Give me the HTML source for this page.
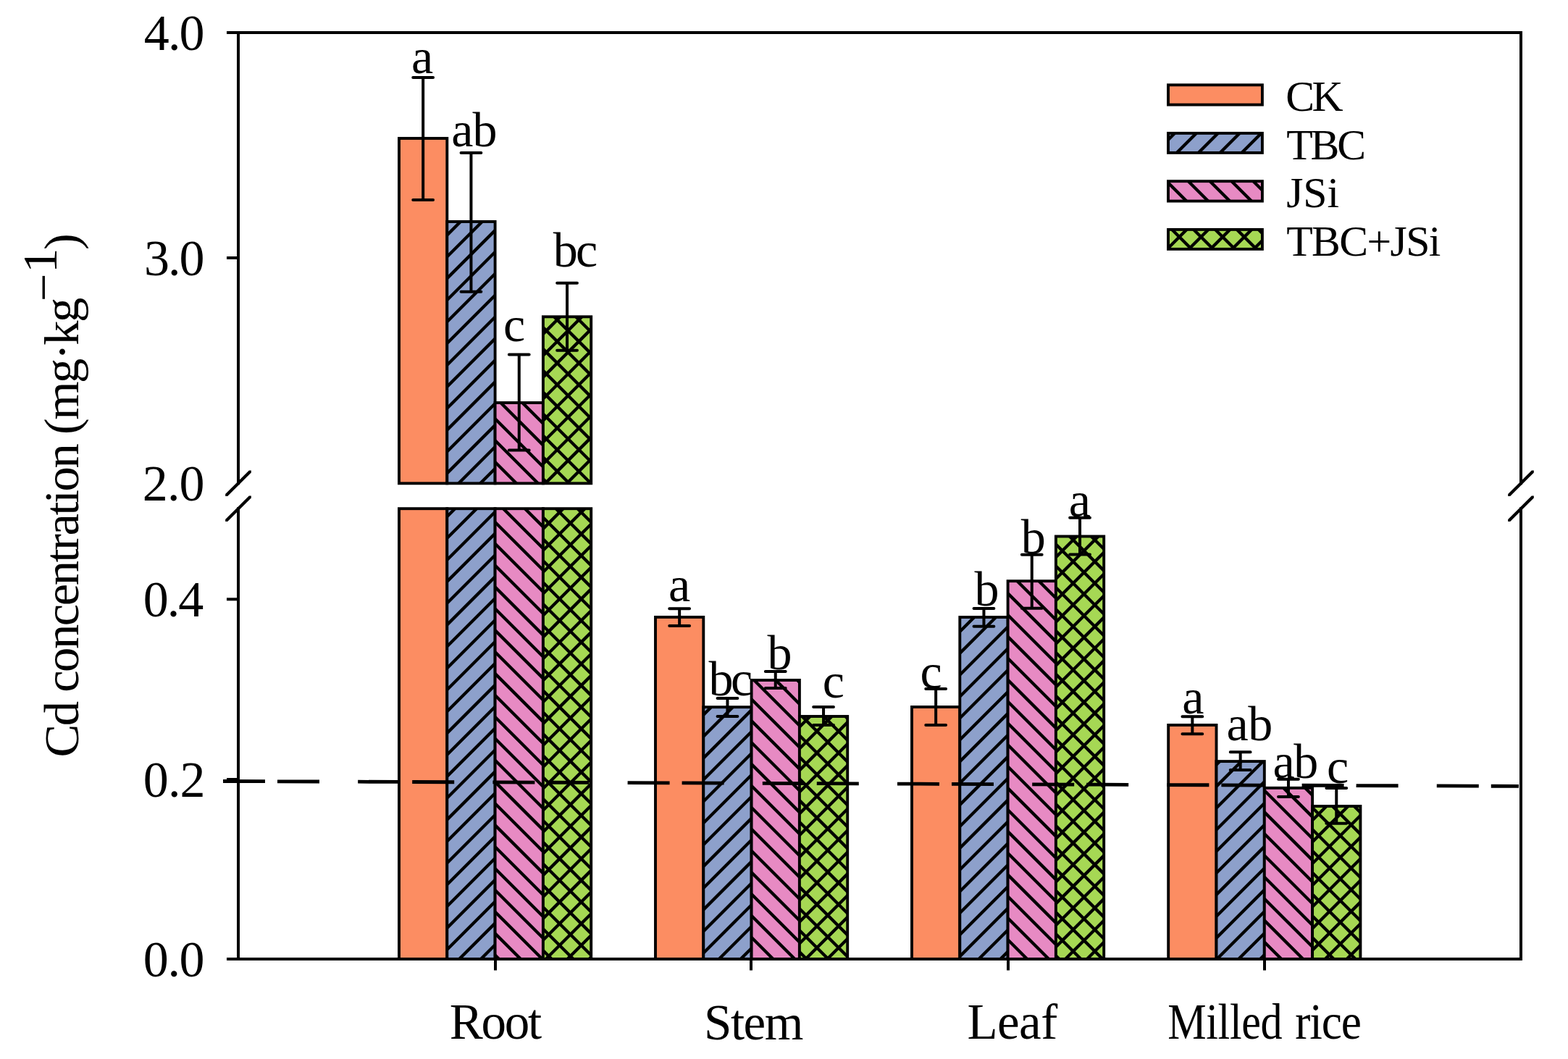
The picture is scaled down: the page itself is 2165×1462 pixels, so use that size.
<!DOCTYPE html>
<html><head><meta charset="utf-8"><title>Cd concentration</title><style>html,body{margin:0;padding:0;background:#fff;overflow:hidden}svg{display:block}</style></head><body>
<svg width="2165" height="1462" viewBox="0 0 2165 1462"><defs></defs><rect width="2165" height="1462" fill="#fff"/><g font-family="Liberation Serif, Times New Roman, serif" fill="#000"><rect x="551.00" y="191.00" width="66.30" height="476.30" fill="#FC8D62"/>
<rect x="551.00" y="191.00" width="66.30" height="476.30" fill="none" stroke="#000" stroke-width="3.9"/>
<rect x="551.00" y="702.20" width="66.30" height="621.80" fill="#FC8D62"/>
<rect x="551.00" y="702.20" width="66.30" height="621.80" fill="none" stroke="#000" stroke-width="3.9"/>
<rect x="617.30" y="306.00" width="66.30" height="361.30" fill="#8DA0CB"/>
<clipPath id="c1"><rect x="617.30" y="306.00" width="66.30" height="361.30"/></clipPath>
<g clip-path="url(#c1)">
<path d="M209.79,672.30 L581.09,301.00 M239.68,672.30 L610.98,301.00 M269.57,672.30 L640.87,301.00 M299.46,672.30 L670.76,301.00 M329.35,672.30 L700.65,301.00 M359.24,672.30 L730.54,301.00 M389.13,672.30 L760.43,301.00 M419.02,672.30 L790.32,301.00 M448.91,672.30 L820.21,301.00 M478.80,672.30 L850.10,301.00 M508.69,672.30 L879.99,301.00 M538.58,672.30 L909.88,301.00 M568.47,672.30 L939.77,301.00 M598.36,672.30 L969.66,301.00 M628.25,672.30 L999.55,301.00 M658.14,672.30 L1029.44,301.00 M688.03,672.30 L1059.33,301.00" stroke="#000" stroke-width="4.3" fill="none"/>
</g>
<rect x="617.30" y="306.00" width="66.30" height="361.30" fill="none" stroke="#000" stroke-width="3.9"/>
<rect x="617.30" y="702.20" width="66.30" height="621.80" fill="#8DA0CB"/>
<clipPath id="c2"><rect x="617.30" y="702.20" width="66.30" height="621.80"/></clipPath>
<g clip-path="url(#c2)">
<path d="M-58.34,1329.00 L573.46,697.20 M-28.45,1329.00 L603.35,697.20 M1.44,1329.00 L633.24,697.20 M31.33,1329.00 L663.13,697.20 M61.22,1329.00 L693.02,697.20 M91.11,1329.00 L722.91,697.20 M121.00,1329.00 L752.80,697.20 M150.89,1329.00 L782.69,697.20 M180.78,1329.00 L812.58,697.20 M210.67,1329.00 L842.47,697.20 M240.56,1329.00 L872.36,697.20 M270.45,1329.00 L902.25,697.20 M300.34,1329.00 L932.14,697.20 M330.23,1329.00 L962.03,697.20 M360.12,1329.00 L991.92,697.20 M390.01,1329.00 L1021.81,697.20 M419.90,1329.00 L1051.70,697.20 M449.79,1329.00 L1081.59,697.20 M479.68,1329.00 L1111.48,697.20 M509.57,1329.00 L1141.37,697.20 M539.46,1329.00 L1171.26,697.20 M569.35,1329.00 L1201.15,697.20 M599.24,1329.00 L1231.04,697.20 M629.13,1329.00 L1260.93,697.20 M659.02,1329.00 L1290.82,697.20 M688.91,1329.00 L1320.71,697.20" stroke="#000" stroke-width="4.3" fill="none"/>
</g>
<rect x="617.30" y="702.20" width="66.30" height="621.80" fill="none" stroke="#000" stroke-width="3.9"/>
<rect x="683.60" y="556.00" width="66.30" height="111.30" fill="#E78AC3"/>
<clipPath id="c3"><rect x="683.60" y="556.00" width="66.30" height="111.30"/></clipPath>
<g clip-path="url(#c3)">
<path d="M536.91,551.00 L658.21,672.30 M566.80,551.00 L688.10,672.30 M596.69,551.00 L717.99,672.30 M626.58,551.00 L747.88,672.30 M656.47,551.00 L777.77,672.30 M686.36,551.00 L807.66,672.30 M716.25,551.00 L837.55,672.30 M746.14,551.00 L867.44,672.30" stroke="#000" stroke-width="4.3" fill="none"/>
</g>
<rect x="683.60" y="556.00" width="66.30" height="111.30" fill="none" stroke="#000" stroke-width="3.9"/>
<rect x="683.60" y="702.20" width="66.30" height="621.80" fill="#E78AC3"/>
<clipPath id="c4"><rect x="683.60" y="702.20" width="66.30" height="621.80"/></clipPath>
<g clip-path="url(#c4)">
<path d="M2.44,697.20 L634.24,1329.00 M32.33,697.20 L664.13,1329.00 M62.22,697.20 L694.02,1329.00 M92.11,697.20 L723.91,1329.00 M122.00,697.20 L753.80,1329.00 M151.89,697.20 L783.69,1329.00 M181.78,697.20 L813.58,1329.00 M211.67,697.20 L843.47,1329.00 M241.56,697.20 L873.36,1329.00 M271.45,697.20 L903.25,1329.00 M301.34,697.20 L933.14,1329.00 M331.23,697.20 L963.03,1329.00 M361.12,697.20 L992.92,1329.00 M391.01,697.20 L1022.81,1329.00 M420.90,697.20 L1052.70,1329.00 M450.79,697.20 L1082.59,1329.00 M480.68,697.20 L1112.48,1329.00 M510.57,697.20 L1142.37,1329.00 M540.46,697.20 L1172.26,1329.00 M570.35,697.20 L1202.15,1329.00 M600.24,697.20 L1232.04,1329.00 M630.13,697.20 L1261.93,1329.00 M660.02,697.20 L1291.82,1329.00 M689.91,697.20 L1321.71,1329.00 M719.80,697.20 L1351.60,1329.00 M749.69,697.20 L1381.49,1329.00" stroke="#000" stroke-width="4.3" fill="none"/>
</g>
<rect x="683.60" y="702.20" width="66.30" height="621.80" fill="none" stroke="#000" stroke-width="3.9"/>
<rect x="749.90" y="437.30" width="66.30" height="230.00" fill="#A6D854"/>
<clipPath id="c5"><rect x="749.90" y="437.30" width="66.30" height="230.00"/></clipPath>
<g clip-path="url(#c5)">
<path d="M478.80,672.30 L718.80,432.30 M508.69,672.30 L748.69,432.30 M538.58,672.30 L778.58,432.30 M568.47,672.30 L808.47,432.30 M598.36,672.30 L838.36,432.30 M628.25,672.30 L868.25,432.30 M658.14,672.30 L898.14,432.30 M688.03,672.30 L928.03,432.30 M717.92,672.30 L957.92,432.30 M747.81,672.30 L987.81,432.30 M777.70,672.30 L1017.70,432.30 M807.59,672.30 L1047.59,432.30 M837.48,672.30 L1077.48,432.30" stroke="#000" stroke-width="4.3" fill="none"/>
<path d="M461.30,432.30 L701.30,672.30 M491.19,432.30 L731.19,672.30 M521.08,432.30 L761.08,672.30 M550.97,432.30 L790.97,672.30 M580.86,432.30 L820.86,672.30 M610.75,432.30 L850.75,672.30 M640.64,432.30 L880.64,672.30 M670.53,432.30 L910.53,672.30 M700.42,432.30 L940.42,672.30 M730.31,432.30 L970.31,672.30 M760.20,432.30 L1000.20,672.30 M790.09,432.30 L1030.09,672.30 M819.98,432.30 L1059.98,672.30" stroke="#000" stroke-width="4.3" fill="none"/>
</g>
<rect x="749.90" y="437.30" width="66.30" height="230.00" fill="none" stroke="#000" stroke-width="3.9"/>
<rect x="749.90" y="702.20" width="66.30" height="621.80" fill="#A6D854"/>
<clipPath id="c6"><rect x="749.90" y="702.20" width="66.30" height="621.80"/></clipPath>
<g clip-path="url(#c6)">
<path d="M91.11,1329.00 L722.91,697.20 M121.00,1329.00 L752.80,697.20 M150.89,1329.00 L782.69,697.20 M180.78,1329.00 L812.58,697.20 M210.67,1329.00 L842.47,697.20 M240.56,1329.00 L872.36,697.20 M270.45,1329.00 L902.25,697.20 M300.34,1329.00 L932.14,697.20 M330.23,1329.00 L962.03,697.20 M360.12,1329.00 L991.92,697.20 M390.01,1329.00 L1021.81,697.20 M419.90,1329.00 L1051.70,697.20 M449.79,1329.00 L1081.59,697.20 M479.68,1329.00 L1111.48,697.20 M509.57,1329.00 L1141.37,697.20 M539.46,1329.00 L1171.26,697.20 M569.35,1329.00 L1201.15,697.20 M599.24,1329.00 L1231.04,697.20 M629.13,1329.00 L1260.93,697.20 M659.02,1329.00 L1290.82,697.20 M688.91,1329.00 L1320.71,697.20 M718.80,1329.00 L1350.60,697.20 M748.69,1329.00 L1380.49,697.20 M778.58,1329.00 L1410.38,697.20 M808.47,1329.00 L1440.27,697.20 M838.36,1329.00 L1470.16,697.20" stroke="#000" stroke-width="4.3" fill="none"/>
<path d="M75.11,697.20 L706.91,1329.00 M105.00,697.20 L736.80,1329.00 M134.89,697.20 L766.69,1329.00 M164.78,697.20 L796.58,1329.00 M194.67,697.20 L826.47,1329.00 M224.56,697.20 L856.36,1329.00 M254.45,697.20 L886.25,1329.00 M284.34,697.20 L916.14,1329.00 M314.23,697.20 L946.03,1329.00 M344.12,697.20 L975.92,1329.00 M374.01,697.20 L1005.81,1329.00 M403.90,697.20 L1035.70,1329.00 M433.79,697.20 L1065.59,1329.00 M463.68,697.20 L1095.48,1329.00 M493.57,697.20 L1125.37,1329.00 M523.46,697.20 L1155.26,1329.00 M553.35,697.20 L1185.15,1329.00 M583.24,697.20 L1215.04,1329.00 M613.13,697.20 L1244.93,1329.00 M643.02,697.20 L1274.82,1329.00 M672.91,697.20 L1304.71,1329.00 M702.80,697.20 L1334.60,1329.00 M732.69,697.20 L1364.49,1329.00 M762.58,697.20 L1394.38,1329.00 M792.47,697.20 L1424.27,1329.00 M822.36,697.20 L1454.16,1329.00" stroke="#000" stroke-width="4.3" fill="none"/>
</g>
<rect x="749.90" y="702.20" width="66.30" height="621.80" fill="none" stroke="#000" stroke-width="3.9"/>
<rect x="905.00" y="852.00" width="66.30" height="472.00" fill="#FC8D62"/>
<rect x="905.00" y="852.00" width="66.30" height="472.00" fill="none" stroke="#000" stroke-width="3.9"/>
<rect x="971.30" y="976.20" width="66.30" height="347.80" fill="#8DA0CB"/>
<clipPath id="c7"><rect x="971.30" y="976.20" width="66.30" height="347.80"/></clipPath>
<g clip-path="url(#c7)">
<path d="M569.35,1329.00 L927.15,971.20 M599.24,1329.00 L957.04,971.20 M629.13,1329.00 L986.93,971.20 M659.02,1329.00 L1016.82,971.20 M688.91,1329.00 L1046.71,971.20 M718.80,1329.00 L1076.60,971.20 M748.69,1329.00 L1106.49,971.20 M778.58,1329.00 L1136.38,971.20 M808.47,1329.00 L1166.27,971.20 M838.36,1329.00 L1196.16,971.20 M868.25,1329.00 L1226.05,971.20 M898.14,1329.00 L1255.94,971.20 M928.03,1329.00 L1285.83,971.20 M957.92,1329.00 L1315.72,971.20 M987.81,1329.00 L1345.61,971.20 M1017.70,1329.00 L1375.50,971.20 M1047.59,1329.00 L1405.39,971.20" stroke="#000" stroke-width="4.3" fill="none"/>
</g>
<rect x="971.30" y="976.20" width="66.30" height="347.80" fill="none" stroke="#000" stroke-width="3.9"/>
<rect x="1037.60" y="939.00" width="66.30" height="385.00" fill="#E78AC3"/>
<clipPath id="c8"><rect x="1037.60" y="939.00" width="66.30" height="385.00"/></clipPath>
<g clip-path="url(#c8)">
<path d="M587.82,934.00 L982.82,1329.00 M617.71,934.00 L1012.71,1329.00 M647.60,934.00 L1042.60,1329.00 M677.49,934.00 L1072.49,1329.00 M707.38,934.00 L1102.38,1329.00 M737.27,934.00 L1132.27,1329.00 M767.16,934.00 L1162.16,1329.00 M797.05,934.00 L1192.05,1329.00 M826.94,934.00 L1221.94,1329.00 M856.83,934.00 L1251.83,1329.00 M886.72,934.00 L1281.72,1329.00 M916.61,934.00 L1311.61,1329.00 M946.50,934.00 L1341.50,1329.00 M976.39,934.00 L1371.39,1329.00 M1006.28,934.00 L1401.28,1329.00 M1036.17,934.00 L1431.17,1329.00 M1066.06,934.00 L1461.06,1329.00 M1095.95,934.00 L1490.95,1329.00 M1125.84,934.00 L1520.84,1329.00" stroke="#000" stroke-width="4.3" fill="none"/>
</g>
<rect x="1037.60" y="939.00" width="66.30" height="385.00" fill="none" stroke="#000" stroke-width="3.9"/>
<rect x="1103.90" y="989.00" width="66.30" height="335.00" fill="#A6D854"/>
<clipPath id="c9"><rect x="1103.90" y="989.00" width="66.30" height="335.00"/></clipPath>
<g clip-path="url(#c9)">
<path d="M718.80,1329.00 L1063.80,984.00 M748.69,1329.00 L1093.69,984.00 M778.58,1329.00 L1123.58,984.00 M808.47,1329.00 L1153.47,984.00 M838.36,1329.00 L1183.36,984.00 M868.25,1329.00 L1213.25,984.00 M898.14,1329.00 L1243.14,984.00 M928.03,1329.00 L1273.03,984.00 M957.92,1329.00 L1302.92,984.00 M987.81,1329.00 L1332.81,984.00 M1017.70,1329.00 L1362.70,984.00 M1047.59,1329.00 L1392.59,984.00 M1077.48,1329.00 L1422.48,984.00 M1107.37,1329.00 L1452.37,984.00 M1137.26,1329.00 L1482.26,984.00 M1167.15,1329.00 L1512.15,984.00" stroke="#000" stroke-width="4.3" fill="none"/>
<path d="M713.90,984.00 L1058.90,1329.00 M743.79,984.00 L1088.79,1329.00 M773.68,984.00 L1118.68,1329.00 M803.57,984.00 L1148.57,1329.00 M833.46,984.00 L1178.46,1329.00 M863.35,984.00 L1208.35,1329.00 M893.24,984.00 L1238.24,1329.00 M923.13,984.00 L1268.13,1329.00 M953.02,984.00 L1298.02,1329.00 M982.91,984.00 L1327.91,1329.00 M1012.80,984.00 L1357.80,1329.00 M1042.69,984.00 L1387.69,1329.00 M1072.58,984.00 L1417.58,1329.00 M1102.47,984.00 L1447.47,1329.00 M1132.36,984.00 L1477.36,1329.00 M1162.25,984.00 L1507.25,1329.00 M1192.14,984.00 L1537.14,1329.00" stroke="#000" stroke-width="4.3" fill="none"/>
</g>
<rect x="1103.90" y="989.00" width="66.30" height="335.00" fill="none" stroke="#000" stroke-width="3.9"/>
<rect x="1259.00" y="976.00" width="66.30" height="348.00" fill="#FC8D62"/>
<rect x="1259.00" y="976.00" width="66.30" height="348.00" fill="none" stroke="#000" stroke-width="3.9"/>
<rect x="1325.30" y="852.10" width="66.30" height="471.90" fill="#8DA0CB"/>
<clipPath id="c10"><rect x="1325.30" y="852.10" width="66.30" height="471.90"/></clipPath>
<g clip-path="url(#c10)">
<path d="M808.47,1329.00 L1290.37,847.10 M838.36,1329.00 L1320.26,847.10 M868.25,1329.00 L1350.15,847.10 M898.14,1329.00 L1380.04,847.10 M928.03,1329.00 L1409.93,847.10 M957.92,1329.00 L1439.82,847.10 M987.81,1329.00 L1469.71,847.10 M1017.70,1329.00 L1499.60,847.10 M1047.59,1329.00 L1529.49,847.10 M1077.48,1329.00 L1559.38,847.10 M1107.37,1329.00 L1589.27,847.10 M1137.26,1329.00 L1619.16,847.10 M1167.15,1329.00 L1649.05,847.10 M1197.04,1329.00 L1678.94,847.10 M1226.93,1329.00 L1708.83,847.10 M1256.82,1329.00 L1738.72,847.10 M1286.71,1329.00 L1768.61,847.10 M1316.60,1329.00 L1798.50,847.10 M1346.49,1329.00 L1828.39,847.10 M1376.38,1329.00 L1858.28,847.10 M1406.27,1329.00 L1888.17,847.10" stroke="#000" stroke-width="4.3" fill="none"/>
</g>
<rect x="1325.30" y="852.10" width="66.30" height="471.90" fill="none" stroke="#000" stroke-width="3.9"/>
<rect x="1391.60" y="802.20" width="66.30" height="521.80" fill="#E78AC3"/>
<clipPath id="c11"><rect x="1391.60" y="802.20" width="66.30" height="521.80"/></clipPath>
<g clip-path="url(#c11)">
<path d="M831.59,797.20 L1363.39,1329.00 M861.48,797.20 L1393.28,1329.00 M891.37,797.20 L1423.17,1329.00 M921.26,797.20 L1453.06,1329.00 M951.15,797.20 L1482.95,1329.00 M981.04,797.20 L1512.84,1329.00 M1010.93,797.20 L1542.73,1329.00 M1040.82,797.20 L1572.62,1329.00 M1070.71,797.20 L1602.51,1329.00 M1100.60,797.20 L1632.40,1329.00 M1130.49,797.20 L1662.29,1329.00 M1160.38,797.20 L1692.18,1329.00 M1190.27,797.20 L1722.07,1329.00 M1220.16,797.20 L1751.96,1329.00 M1250.05,797.20 L1781.85,1329.00 M1279.94,797.20 L1811.74,1329.00 M1309.83,797.20 L1841.63,1329.00 M1339.72,797.20 L1871.52,1329.00 M1369.61,797.20 L1901.41,1329.00 M1399.50,797.20 L1931.30,1329.00 M1429.39,797.20 L1961.19,1329.00 M1459.28,797.20 L1991.08,1329.00" stroke="#000" stroke-width="4.3" fill="none"/>
</g>
<rect x="1391.60" y="802.20" width="66.30" height="521.80" fill="none" stroke="#000" stroke-width="3.9"/>
<rect x="1457.90" y="740.50" width="66.30" height="583.50" fill="#A6D854"/>
<clipPath id="c12"><rect x="1457.90" y="740.50" width="66.30" height="583.50"/></clipPath>
<g clip-path="url(#c12)">
<path d="M838.36,1329.00 L1431.86,735.50 M868.25,1329.00 L1461.75,735.50 M898.14,1329.00 L1491.64,735.50 M928.03,1329.00 L1521.53,735.50 M957.92,1329.00 L1551.42,735.50 M987.81,1329.00 L1581.31,735.50 M1017.70,1329.00 L1611.20,735.50 M1047.59,1329.00 L1641.09,735.50 M1077.48,1329.00 L1670.98,735.50 M1107.37,1329.00 L1700.87,735.50 M1137.26,1329.00 L1730.76,735.50 M1167.15,1329.00 L1760.65,735.50 M1197.04,1329.00 L1790.54,735.50 M1226.93,1329.00 L1820.43,735.50 M1256.82,1329.00 L1850.32,735.50 M1286.71,1329.00 L1880.21,735.50 M1316.60,1329.00 L1910.10,735.50 M1346.49,1329.00 L1939.99,735.50 M1376.38,1329.00 L1969.88,735.50 M1406.27,1329.00 L1999.77,735.50 M1436.16,1329.00 L2029.66,735.50 M1466.05,1329.00 L2059.55,735.50 M1495.94,1329.00 L2089.44,735.50 M1525.83,1329.00 L2119.33,735.50" stroke="#000" stroke-width="4.3" fill="none"/>
<path d="M814.28,735.50 L1407.78,1329.00 M844.17,735.50 L1437.67,1329.00 M874.06,735.50 L1467.56,1329.00 M903.95,735.50 L1497.45,1329.00 M933.84,735.50 L1527.34,1329.00 M963.73,735.50 L1557.23,1329.00 M993.62,735.50 L1587.12,1329.00 M1023.51,735.50 L1617.01,1329.00 M1053.40,735.50 L1646.90,1329.00 M1083.29,735.50 L1676.79,1329.00 M1113.18,735.50 L1706.68,1329.00 M1143.07,735.50 L1736.57,1329.00 M1172.96,735.50 L1766.46,1329.00 M1202.85,735.50 L1796.35,1329.00 M1232.74,735.50 L1826.24,1329.00 M1262.63,735.50 L1856.13,1329.00 M1292.52,735.50 L1886.02,1329.00 M1322.41,735.50 L1915.91,1329.00 M1352.30,735.50 L1945.80,1329.00 M1382.19,735.50 L1975.69,1329.00 M1412.08,735.50 L2005.58,1329.00 M1441.97,735.50 L2035.47,1329.00 M1471.86,735.50 L2065.36,1329.00 M1501.75,735.50 L2095.25,1329.00 M1531.64,735.50 L2125.14,1329.00" stroke="#000" stroke-width="4.3" fill="none"/>
</g>
<rect x="1457.90" y="740.50" width="66.30" height="583.50" fill="none" stroke="#000" stroke-width="3.9"/>
<rect x="1613.20" y="1001.00" width="66.30" height="323.00" fill="#FC8D62"/>
<rect x="1613.20" y="1001.00" width="66.30" height="323.00" fill="none" stroke="#000" stroke-width="3.9"/>
<rect x="1679.50" y="1051.10" width="66.30" height="272.90" fill="#8DA0CB"/>
<clipPath id="c13"><rect x="1679.50" y="1051.10" width="66.30" height="272.90"/></clipPath>
<g clip-path="url(#c13)">
<path d="M1346.49,1329.00 L1629.39,1046.10 M1376.38,1329.00 L1659.28,1046.10 M1406.27,1329.00 L1689.17,1046.10 M1436.16,1329.00 L1719.06,1046.10 M1466.05,1329.00 L1748.95,1046.10 M1495.94,1329.00 L1778.84,1046.10 M1525.83,1329.00 L1808.73,1046.10 M1555.72,1329.00 L1838.62,1046.10 M1585.61,1329.00 L1868.51,1046.10 M1615.50,1329.00 L1898.40,1046.10 M1645.39,1329.00 L1928.29,1046.10 M1675.28,1329.00 L1958.18,1046.10 M1705.17,1329.00 L1988.07,1046.10 M1735.06,1329.00 L2017.96,1046.10 M1764.95,1329.00 L2047.85,1046.10" stroke="#000" stroke-width="4.3" fill="none"/>
</g>
<rect x="1679.50" y="1051.10" width="66.30" height="272.90" fill="none" stroke="#000" stroke-width="3.9"/>
<rect x="1745.80" y="1087.80" width="66.30" height="236.20" fill="#E78AC3"/>
<clipPath id="c14"><rect x="1745.80" y="1087.80" width="66.30" height="236.20"/></clipPath>
<g clip-path="url(#c14)">
<path d="M1468.28,1082.80 L1714.48,1329.00 M1498.17,1082.80 L1744.37,1329.00 M1528.06,1082.80 L1774.26,1329.00 M1557.95,1082.80 L1804.15,1329.00 M1587.84,1082.80 L1834.04,1329.00 M1617.73,1082.80 L1863.93,1329.00 M1647.62,1082.80 L1893.82,1329.00 M1677.51,1082.80 L1923.71,1329.00 M1707.40,1082.80 L1953.60,1329.00 M1737.29,1082.80 L1983.49,1329.00 M1767.18,1082.80 L2013.38,1329.00 M1797.07,1082.80 L2043.27,1329.00 M1826.96,1082.80 L2073.16,1329.00" stroke="#000" stroke-width="4.3" fill="none"/>
</g>
<rect x="1745.80" y="1087.80" width="66.30" height="236.20" fill="none" stroke="#000" stroke-width="3.9"/>
<rect x="1812.10" y="1113.00" width="66.30" height="211.00" fill="#A6D854"/>
<clipPath id="c15"><rect x="1812.10" y="1113.00" width="66.30" height="211.00"/></clipPath>
<g clip-path="url(#c15)">
<path d="M1555.72,1329.00 L1776.72,1108.00 M1585.61,1329.00 L1806.61,1108.00 M1615.50,1329.00 L1836.50,1108.00 M1645.39,1329.00 L1866.39,1108.00 M1675.28,1329.00 L1896.28,1108.00 M1705.17,1329.00 L1926.17,1108.00 M1735.06,1329.00 L1956.06,1108.00 M1764.95,1329.00 L1985.95,1108.00 M1794.84,1329.00 L2015.84,1108.00 M1824.73,1329.00 L2045.73,1108.00 M1854.62,1329.00 L2075.62,1108.00 M1884.51,1329.00 L2105.51,1108.00" stroke="#000" stroke-width="4.3" fill="none"/>
<path d="M1565.85,1108.00 L1786.85,1329.00 M1595.74,1108.00 L1816.74,1329.00 M1625.63,1108.00 L1846.63,1329.00 M1655.52,1108.00 L1876.52,1329.00 M1685.41,1108.00 L1906.41,1329.00 M1715.30,1108.00 L1936.30,1329.00 M1745.19,1108.00 L1966.19,1329.00 M1775.08,1108.00 L1996.08,1329.00 M1804.97,1108.00 L2025.97,1329.00 M1834.86,1108.00 L2055.86,1329.00 M1864.75,1108.00 L2085.75,1329.00 M1894.64,1108.00 L2115.64,1329.00" stroke="#000" stroke-width="4.3" fill="none"/>
</g>
<rect x="1812.10" y="1113.00" width="66.30" height="211.00" fill="none" stroke="#000" stroke-width="3.9"/>
<path d="M584.15,107.00 V276.00 M570.25,107.00 H598.05 M570.25,276.00 H598.05" stroke="#000" stroke-width="4.0" stroke-linecap="round" fill="none"/>
<path d="M650.45,211.00 V402.70 M636.55,211.00 H664.35 M636.55,402.70 H664.35" stroke="#000" stroke-width="4.0" stroke-linecap="round" fill="none"/>
<path d="M716.75,489.60 V621.40 M702.85,489.60 H730.65 M702.85,621.40 H730.65" stroke="#000" stroke-width="4.0" stroke-linecap="round" fill="none"/>
<path d="M783.05,390.70 V483.70 M769.15,390.70 H796.95 M769.15,483.70 H796.95" stroke="#000" stroke-width="4.0" stroke-linecap="round" fill="none"/>
<path d="M938.15,840.20 V864.10 M924.25,840.20 H952.05 M924.25,864.10 H952.05" stroke="#000" stroke-width="4.0" stroke-linecap="round" fill="none"/>
<path d="M1004.45,964.00 V988.90 M990.55,964.00 H1018.35 M990.55,988.90 H1018.35" stroke="#000" stroke-width="4.0" stroke-linecap="round" fill="none"/>
<path d="M1070.75,927.10 V950.10 M1056.85,927.10 H1084.65 M1056.85,950.10 H1084.65" stroke="#000" stroke-width="4.0" stroke-linecap="round" fill="none"/>
<path d="M1137.05,976.00 V1001.00 M1123.15,976.00 H1150.95 M1123.15,1001.00 H1150.95" stroke="#000" stroke-width="4.0" stroke-linecap="round" fill="none"/>
<path d="M1292.15,951.00 V1001.00 M1278.25,951.00 H1306.05 M1278.25,1001.00 H1306.05" stroke="#000" stroke-width="4.0" stroke-linecap="round" fill="none"/>
<path d="M1358.45,840.00 V864.70 M1344.55,840.00 H1372.35 M1344.55,864.70 H1372.35" stroke="#000" stroke-width="4.0" stroke-linecap="round" fill="none"/>
<path d="M1424.75,765.80 V839.70 M1410.85,765.80 H1438.65 M1410.85,839.70 H1438.65" stroke="#000" stroke-width="4.0" stroke-linecap="round" fill="none"/>
<path d="M1491.05,714.70 V765.50 M1477.15,714.70 H1504.95 M1477.15,765.50 H1504.95" stroke="#000" stroke-width="4.0" stroke-linecap="round" fill="none"/>
<path d="M1646.35,989.30 V1013.20 M1632.45,989.30 H1660.25 M1632.45,1013.20 H1660.25" stroke="#000" stroke-width="4.0" stroke-linecap="round" fill="none"/>
<path d="M1712.65,1038.20 V1063.00 M1698.75,1038.20 H1726.55 M1698.75,1063.00 H1726.55" stroke="#000" stroke-width="4.0" stroke-linecap="round" fill="none"/>
<path d="M1778.95,1075.80 V1099.90 M1765.05,1075.80 H1792.85 M1765.05,1099.90 H1792.85" stroke="#000" stroke-width="4.0" stroke-linecap="round" fill="none"/>
<path d="M1845.25,1087.90 V1136.80 M1831.35,1087.90 H1859.15 M1831.35,1136.80 H1859.15" stroke="#000" stroke-width="4.0" stroke-linecap="round" fill="none"/>
<line x1="308" y1="1078.5" x2="2097" y2="1085.4" stroke="#000" stroke-width="4.8" stroke-dasharray="58 17 58 53.2"/>
<g stroke="#000" stroke-width="4.0" fill="none" stroke-linecap="square">
<path d="M329,45 H2100"/>
<path d="M329,1324 H2100"/>
<path d="M329,45 V667.3 M329,702.2 V1324"/>
<path d="M2100,45 V667.3 M2100,702.2 V1324"/>
</g>
<polygon points="311.20,685.10 314.20,685.10 346.80,652.50 346.80,649.50 343.80,649.50 311.20,682.10" fill="#000"/>
<polygon points="311.20,720.00 314.20,720.00 346.80,687.40 346.80,684.40 343.80,684.40 311.20,717.00" fill="#000"/>
<polygon points="2082.20,685.10 2085.20,685.10 2117.80,652.50 2117.80,649.50 2114.80,649.50 2082.20,682.10" fill="#000"/>
<polygon points="2082.20,720.00 2085.20,720.00 2117.80,687.40 2117.80,684.40 2114.80,684.40 2082.20,717.00" fill="#000"/>
<g stroke="#000" stroke-width="4.0" fill="none">
<path d="M313,45.00 H329"/>
<path d="M313,356.00 H329"/>
<path d="M313,827.30 H329"/>
<path d="M313,1076.00 H329"/>
<path d="M313,1324.00 H329"/>
<path d="M684,1324 V1339.6"/>
<path d="M1037,1324 V1339.6"/>
<path d="M1392,1324 V1339.6"/>
<path d="M1746,1324 V1339.6"/>
</g>
<rect x="1613.00" y="117.30" width="129.90" height="27.30" fill="#FC8D62"/>
<rect x="1613.00" y="117.30" width="129.90" height="27.30" fill="none" stroke="#000" stroke-width="3.9"/>
<rect x="1613.00" y="183.90" width="129.90" height="27.00" fill="#8DA0CB"/>
<clipPath id="c16"><rect x="1613.00" y="183.90" width="129.90" height="27.00"/></clipPath>
<g clip-path="url(#c16)">
<path d="M1530.22,215.90 L1567.22,178.90 M1560.11,215.90 L1597.11,178.90 M1590.00,215.90 L1627.00,178.90 M1619.89,215.90 L1656.89,178.90 M1649.78,215.90 L1686.78,178.90 M1679.67,215.90 L1716.67,178.90 M1709.56,215.90 L1746.56,178.90 M1739.45,215.90 L1776.45,178.90" stroke="#000" stroke-width="4.3" fill="none"/>
</g>
<rect x="1613.00" y="183.90" width="129.90" height="27.00" fill="none" stroke="#000" stroke-width="3.9"/>
<rect x="1613.00" y="250.20" width="129.90" height="27.40" fill="#E78AC3"/>
<clipPath id="c17"><rect x="1613.00" y="250.20" width="129.90" height="27.40"/></clipPath>
<g clip-path="url(#c17)">
<path d="M1546.07,245.20 L1583.47,282.60 M1575.96,245.20 L1613.36,282.60 M1605.85,245.20 L1643.25,282.60 M1635.74,245.20 L1673.14,282.60 M1665.63,245.20 L1703.03,282.60 M1695.52,245.20 L1732.92,282.60 M1725.41,245.20 L1762.81,282.60 M1755.30,245.20 L1792.70,282.60" stroke="#000" stroke-width="4.3" fill="none"/>
</g>
<rect x="1613.00" y="250.20" width="129.90" height="27.40" fill="none" stroke="#000" stroke-width="3.9"/>
<rect x="1613.00" y="316.90" width="129.90" height="27.00" fill="#A6D854"/>
<clipPath id="c18"><rect x="1613.00" y="316.90" width="129.90" height="27.00"/></clipPath>
<g clip-path="url(#c18)">
<path d="M1546.77,348.90 L1583.77,311.90 M1576.66,348.90 L1613.66,311.90 M1606.55,348.90 L1643.55,311.90 M1636.44,348.90 L1673.44,311.90 M1666.33,348.90 L1703.33,311.90 M1696.22,348.90 L1733.22,311.90 M1726.11,348.90 L1763.11,311.90 M1756.00,348.90 L1793.00,311.90" stroke="#000" stroke-width="4.3" fill="none"/>
<path d="M1523.50,311.90 L1560.50,348.90 M1553.39,311.90 L1590.39,348.90 M1583.28,311.90 L1620.28,348.90 M1613.17,311.90 L1650.17,348.90 M1643.06,311.90 L1680.06,348.90 M1672.95,311.90 L1709.95,348.90 M1702.84,311.90 L1739.84,348.90 M1732.73,311.90 L1769.73,348.90 M1762.62,311.90 L1799.62,348.90" stroke="#000" stroke-width="4.3" fill="none"/>
</g>
<rect x="1613.00" y="316.90" width="129.90" height="27.00" fill="none" stroke="#000" stroke-width="3.9"/>
<text x="198.80" y="68.80" font-size="70" letter-spacing="-1.85">4.0</text>
<text x="199.00" y="379.90" font-size="70" letter-spacing="-1.95">3.0</text>
<text x="196.80" y="691.00" font-size="70" letter-spacing="-0.85">2.0</text>
<text x="197.80" y="850.60" font-size="70" letter-spacing="-2.00">0.4</text>
<text x="197.70" y="1099.90" font-size="70" letter-spacing="-0.80">0.2</text>
<text x="197.70" y="1347.80" font-size="70" letter-spacing="-1.30">0.0</text>
<text x="620.80" y="1433.70" font-size="69" letter-spacing="-2.27">Root</text>
<text x="972.00" y="1434.60" font-size="69" letter-spacing="-1.47">Stem</text>
<text x="1335.40" y="1433.80" font-size="69" letter-spacing="-0.53">Leaf</text>
<text transform="translate(1612.16,1433.80) scale(0.870,1)" font-size="69" letter-spacing="-0.38">Milled</text>
<text transform="translate(1788.18,1433.80) scale(0.920,1)" font-size="69" letter-spacing="-1.20">rice</text>
<text x="1775.20" y="152.50" font-size="59.7" letter-spacing="-3.40">CK</text>
<text x="1776.20" y="219.60" font-size="59.7" letter-spacing="-3.15">TBC</text>
<text x="1776.20" y="285.90" font-size="59.7" letter-spacing="-0.10">JSi</text>
<text x="1776.20" y="352.90" font-size="59.7" letter-spacing="-1.60">TBC+JSi</text>
<text x="567.95" y="100.90" font-size="68" letter-spacing="0.00">a</text>
<text x="623.30" y="201.80" font-size="68" letter-spacing="-0.90">ab</text>
<text x="695.00" y="471.00" font-size="68" letter-spacing="0.00">c</text>
<text x="763.80" y="368.00" font-size="68" letter-spacing="-2.80">bc</text>
<text x="922.95" y="829.90" font-size="68" letter-spacing="0.00">a</text>
<text x="978.60" y="959.60" font-size="68" letter-spacing="-3.70">bc</text>
<text x="1059.55" y="923.50" font-size="68" letter-spacing="0.00">b</text>
<text x="1135.70" y="963.30" font-size="68" letter-spacing="0.00">c</text>
<text x="1270.40" y="949.50" font-size="68" letter-spacing="0.00">c</text>
<text x="1345.40" y="835.60" font-size="68" letter-spacing="0.00">b</text>
<text x="1409.65" y="763.50" font-size="68" letter-spacing="0.00">b</text>
<text x="1475.65" y="713.00" font-size="68" letter-spacing="0.00">a</text>
<text x="1632.15" y="985.10" font-size="68" letter-spacing="0.00">a</text>
<text x="1693.50" y="1022.00" font-size="68" letter-spacing="-0.50">ab</text>
<text x="1757.50" y="1073.90" font-size="68" letter-spacing="-1.40">ab</text>
<text x="1832.00" y="1081.40" font-size="68" letter-spacing="0.00">c</text>
<text transform="translate(107.50,1045.60) rotate(-90)" font-size="68.5" letter-spacing="-2.44">Cd concentration (mg·kg<tspan dx="-3" dy="-24.5">−</tspan><tspan dx="3" dy="-5.5">1</tspan><tspan dy="30">)</tspan></text></g></svg>
</body></html>
